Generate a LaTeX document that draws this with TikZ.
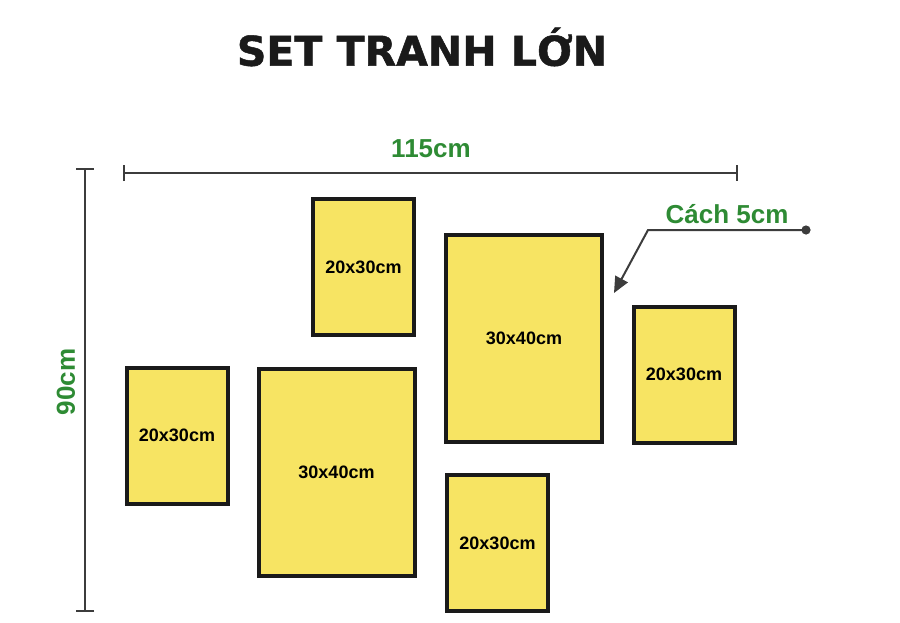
\documentclass[tikz,border=0pt]{standalone}
\usepackage{fontspec}
\setmainfont{Liberation Sans}
\newfontfamily\titlefont[FakeBold=1.2]{DejaVu Sans}
\usetikzlibrary{arrows.meta}
\definecolor{framefill}{HTML}{F7E463}
\definecolor{dimgreen}{HTML}{2E8B34}
\definecolor{framedark}{HTML}{1A1A1A}
\tikzset{
  frm/.style      = {draw=framedark, line width=2pt, fill=framefill,
                     font=\bfseries\fontsize{9}{10}\selectfont, inner sep=0pt},
  smallfrm/.style = {frm, minimum width=50.5pt, minimum height=68pt},
  bigfrm/.style   = {frm, minimum width=78pt, minimum height=103.5pt},
  dimline/.style  = {draw=framedark!85, line width=1pt},
  dimlbl/.style   = {text=dimgreen, font=\bfseries\fontsize{13}{14}\selectfont},
  callarrow/.style= {draw=framedark!85, line width=1pt,
                     -{Triangle[length=8pt,width=7pt]}}
}
\begin{document}
\begin{tikzpicture}[x=0.5pt,y=-0.5pt]
  \useasboundingbox[fill=white] (0,0) rectangle (900,622);

  % title
  \node[font=\titlefont\bfseries\fontsize{20.5}{22}\selectfont, text=framedark]
        (title) at (422,47) {SET TRANH LỚN};

  % frames
  \node[smallfrm] (topsmall)  at (363.5,267) {20x30cm};
  \node[bigfrm]   (rightbig)  at (524,338.5) {30x40cm};
  \node[smallfrm] (rightsmall) at (684,374.5) {20x30cm};
  \node[smallfrm] (leftsmall) at (177,435.5) {20x30cm};
  \node[bigfrm]   (leftbig)   at (336.5,472) {30x40cm};
  \node[smallfrm] (botsmall)  at (497.5,543) {20x30cm};

  % width
  \coordinate (wa) at (123,173);
  \coordinate (wb) at (738,173);
  \draw[dimline, {Bar[width=8pt]}-{Bar[width=8pt]}] (wa) -- (wb);
  \node[dimlbl] (wlbl) at (431,149) {115cm};

  % height
  \coordinate (ha) at (85,168);
  \coordinate (hb) at (85,612);
  \draw[dimline, {Bar[width=9pt]}-{Bar[width=9pt]}] (ha) -- (hb);
  \node[dimlbl, rotate=90] (hlbl) at (66,382) {90cm};

  % gap callout
  \coordinate (dot)  at (806,230);
  \coordinate (bend) at (648,230);
  \coordinate (tip)  at (614,293);
  \fill[framedark!85] (dot) circle (2.3pt);
  \draw[callarrow] (dot) -- (bend) -- (tip);
  \node[dimlbl] (gaplbl) at (727,214) {Cách 5cm};
\end{tikzpicture}
\end{document}
